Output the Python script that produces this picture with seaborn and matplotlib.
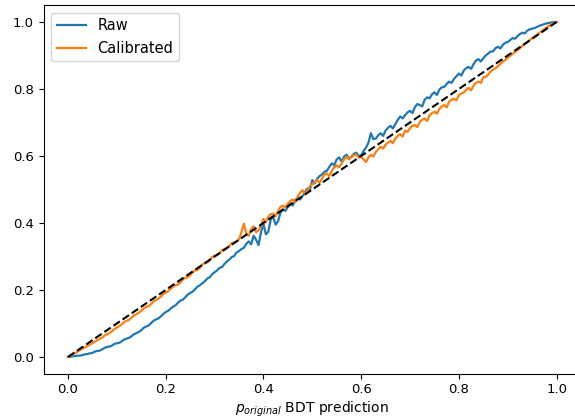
import matplotlib
matplotlib.use("Agg")
import matplotlib.pyplot as plt
import seaborn as sns
import pandas as pd

# bin centres of the calibration curve (0.000, 0.005, ..., 1.000)
x_vals = [i / 200 for i in range(201)]

raw = [
    0.000, 0.001, 0.002, 0.003, 0.004, 0.004, 0.006, 0.008, 0.009, 0.011,
    0.012, 0.016, 0.018, 0.019, 0.023, 0.027, 0.030, 0.031, 0.034, 0.039,
    0.041, 0.042, 0.047, 0.052, 0.055, 0.057, 0.062, 0.068, 0.071, 0.075,
    0.080, 0.087, 0.091, 0.094, 0.101, 0.108, 0.112, 0.115, 0.121, 0.128,
    0.134, 0.138, 0.144, 0.150, 0.154, 0.162, 0.168, 0.171, 0.178, 0.186,
    0.191, 0.195, 0.202, 0.210, 0.214, 0.220, 0.226, 0.234, 0.238, 0.247,
    0.253, 0.258, 0.266, 0.268, 0.277, 0.285, 0.290, 0.298, 0.301, 0.312,
    0.316, 0.322, 0.326, 0.338, 0.345, 0.336, 0.362, 0.350, 0.334, 0.372,
    0.398, 0.366, 0.374, 0.410, 0.418, 0.395, 0.405, 0.432, 0.440, 0.436,
    0.448, 0.458, 0.452, 0.468, 0.476, 0.470, 0.480, 0.492, 0.503, 0.498,
    0.528, 0.518, 0.532, 0.540, 0.545, 0.553, 0.556, 0.568, 0.578, 0.572,
    0.590, 0.596, 0.583, 0.598, 0.604, 0.592, 0.598, 0.606, 0.610, 0.600,
    0.602, 0.615, 0.625, 0.640, 0.668, 0.650, 0.652, 0.662, 0.668, 0.660,
    0.676, 0.684, 0.690, 0.682, 0.695, 0.708, 0.718, 0.712, 0.722, 0.730,
    0.735, 0.728, 0.746, 0.755, 0.752, 0.748, 0.768, 0.775, 0.772, 0.784,
    0.790, 0.782, 0.798, 0.805, 0.806, 0.815, 0.822, 0.818, 0.830, 0.838,
    0.846, 0.840, 0.855, 0.862, 0.866, 0.860, 0.874, 0.885, 0.889, 0.882,
    0.892, 0.900, 0.906, 0.912, 0.912, 0.922, 0.926, 0.921, 0.932, 0.938,
    0.940, 0.946, 0.952, 0.950, 0.958, 0.964, 0.968, 0.966, 0.974, 0.978,
    0.980, 0.982, 0.985, 0.989, 0.991, 0.994, 0.996, 0.997, 0.999, 1.000,
    1.000,
]

calibrated = [
    0.000, 0.004, 0.008, 0.012, 0.016, 0.021, 0.025, 0.029, 0.033, 0.037,
    0.041, 0.046, 0.050, 0.054, 0.058, 0.064, 0.068, 0.071, 0.077, 0.083,
    0.088, 0.092, 0.097, 0.104, 0.108, 0.111, 0.117, 0.124, 0.128, 0.132,
    0.138, 0.145, 0.149, 0.152, 0.158, 0.166, 0.170, 0.174, 0.180, 0.188,
    0.192, 0.196, 0.203, 0.210, 0.214, 0.216, 0.222, 0.232, 0.236, 0.238,
    0.244, 0.253, 0.258, 0.260, 0.266, 0.276, 0.280, 0.282, 0.288, 0.298,
    0.302, 0.304, 0.309, 0.318, 0.322, 0.326, 0.330, 0.340, 0.342, 0.345,
    0.351, 0.372, 0.398, 0.368, 0.362, 0.382, 0.390, 0.372, 0.378, 0.392,
    0.412, 0.402, 0.418, 0.426, 0.428, 0.420, 0.436, 0.448, 0.452, 0.446,
    0.458, 0.466, 0.470, 0.462, 0.478, 0.490, 0.498, 0.486, 0.496, 0.510,
    0.515, 0.522, 0.528, 0.520, 0.533, 0.545, 0.548, 0.540, 0.556, 0.566,
    0.572, 0.566, 0.578, 0.590, 0.598, 0.590, 0.596, 0.602, 0.604, 0.595,
    0.598, 0.590, 0.582, 0.596, 0.604, 0.598, 0.612, 0.620, 0.628, 0.622,
    0.634, 0.640, 0.645, 0.638, 0.652, 0.660, 0.665, 0.658, 0.676, 0.672,
    0.683, 0.690, 0.692, 0.686, 0.702, 0.708, 0.712, 0.704, 0.722, 0.728,
    0.732, 0.726, 0.740, 0.748, 0.752, 0.745, 0.762, 0.768, 0.771, 0.766,
    0.782, 0.786, 0.790, 0.798, 0.803, 0.796, 0.810, 0.818, 0.822, 0.818,
    0.835, 0.836, 0.843, 0.852, 0.858, 0.862, 0.868, 0.875, 0.882, 0.886,
    0.893, 0.899, 0.905, 0.910, 0.916, 0.922, 0.928, 0.934, 0.940, 0.946,
    0.952, 0.957, 0.962, 0.968, 0.973, 0.979, 0.984, 0.989, 0.993, 0.997,
    1.000,
]

series_names = ["Raw", "Calibrated"]
ticks = [0.0, 0.2, 0.4, 0.6, 0.8, 1.0]
diag = [0.0, 1.0]

df = pd.DataFrame({
    "x": x_vals + x_vals,
    "y": raw + calibrated,
    "series": [series_names[0]] * len(x_vals) + [series_names[1]] * len(x_vals),
})

plt.rcParams["font.family"] = ["DejaVu Sans"]
fig = plt.figure(figsize=(5.75, 4.18), dpi=100)
ax = fig.add_axes([0.0757, 0.1059, 0.9348, 0.8816])

sns.lineplot(data=df, x="x", y="y", hue="series", hue_order=series_names,
             palette=["#1f77b4", "#ff7f0e"], estimator=None, sort=False,
             linewidth=1.6, ax=ax)
ax.plot(diag, diag, color="black", linestyle="--", linewidth=1.5)

ax.set_xlim(-0.05, 1.05)
ax.set_ylim(-0.05, 1.05)
ax.set_xticks(ticks)
ax.set_yticks(ticks)
ax.tick_params(labelsize=9.5)
ax.set_xlabel(r"$p_{original}$ BDT prediction", fontsize=10, labelpad=2)
ax.set_ylabel("")
leg = ax.legend(loc="upper left", fontsize=10.5)
leg.set_title(None)

fig.savefig("out.png", dpi=100)
